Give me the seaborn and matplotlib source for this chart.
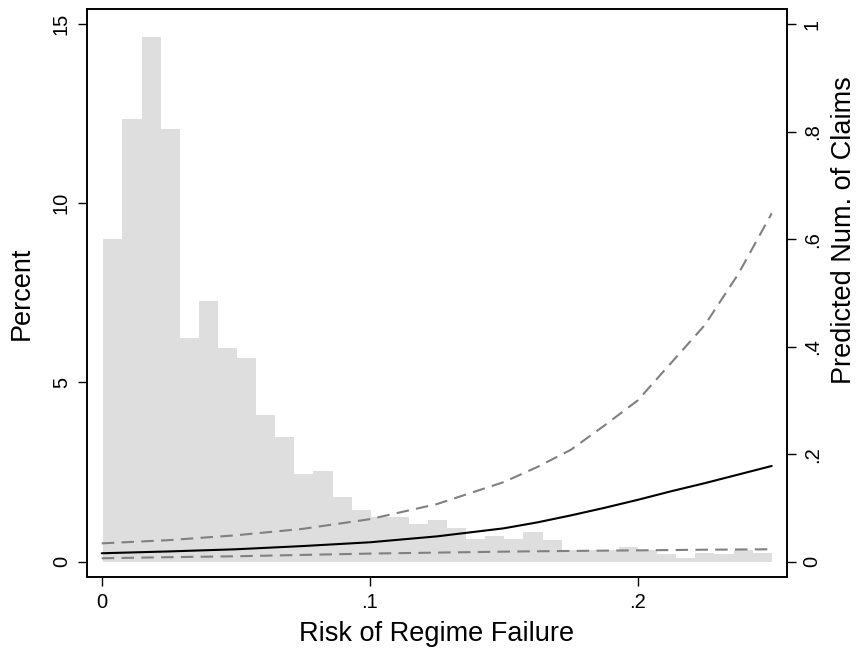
import numpy as np
import pandas as pd
import matplotlib
matplotlib.use("Agg")
import matplotlib.pyplot as plt
import seaborn as sns

sns.set_style("ticks")
plt.rcParams['font.family'] = ['Liberation Sans', 'DejaVu Sans']
plt.rcParams['text.color'] = 'black'
plt.rcParams['axes.labelcolor'] = 'black'
plt.rcParams['xtick.color'] = 'black'
plt.rcParams['ytick.color'] = 'black'

# histogram of risk of regime failure (percent per bin)
bin_lo, bin_hi, n_bins = 0.0006, 0.2500, 35
pct = [9.0, 12.35, 14.63, 12.07, 6.24, 7.27, 5.96, 5.68, 4.09, 3.47,
       2.44, 2.52, 1.80, 1.44, 1.24, 1.24, 1.05, 1.16, 0.95, 0.63,
       0.72, 0.63, 0.84, 0.61, 0.33, 0.33, 0.33, 0.42, 0.33, 0.21,
       0.11, 0.25, 0.21, 0.33, 0.23]

# predicted number of claims with bounds
risk = [0.0, 0.025, 0.05, 0.075, 0.1, 0.125, 0.15, 0.1625, 0.175, 0.1875,
        0.2, 0.2125, 0.225, 0.2375, 0.25]
pred = [0.0156, 0.019, 0.023, 0.029, 0.036, 0.047, 0.062, 0.073, 0.086, 0.100,
        0.115, 0.131, 0.146, 0.162, 0.178]
upper = [0.034, 0.040, 0.049, 0.061, 0.079, 0.107, 0.148, 0.176, 0.208, 0.253,
         0.300, 0.37, 0.44, 0.535, 0.648]
lower = [0.0063, 0.0083, 0.010, 0.0125, 0.0150, 0.0168, 0.0186, 0.0193, 0.0199, 0.0205,
         0.021, 0.0216, 0.0222, 0.0226, 0.023]

edges = np.linspace(bin_lo, bin_hi, n_bins + 1)
centers = (edges[:-1] + edges[1:]) / 2
hist_df = pd.DataFrame({'risk': centers, 'pct': pct})
line_df = pd.DataFrame({'risk': risk, 'pred': pred, 'upper': upper, 'lower': lower})

fig = plt.figure(figsize=(8.57, 6.52), dpi=100)
ax = fig.add_axes([0.1012, 0.1155, 0.918 - 0.1012, 0.986 - 0.1155])

sns.histplot(data=hist_df, x='risk', weights='pct', bins=n_bins, binrange=(bin_lo, bin_hi),
             ax=ax, color='#dedede', alpha=1, linewidth=0, edgecolor='none')
ax.set_xlim(-0.0056, 0.2556)
ax.set_ylim(-0.42, 15.42)
ax.set_xticks([0, 0.1, 0.2])
ax.set_xticklabels(['0', '.1', '.2'])
ax.set_yticks([0, 5, 10, 15])
ax.set_yticklabels(['0', '5', '10', '15'], rotation=90, va='center')
ax.set_xlabel('Risk of Regime Failure', fontsize=19.5, labelpad=7)
ax.set_ylabel('Percent', fontsize=19.5, labelpad=12)

ax2 = ax.twinx()
sns.lineplot(data=line_df, x='risk', y='upper', ax=ax2, color='#808080',
             linewidth=1.5, linestyle=(0, (6, 3.5)))
sns.lineplot(data=line_df, x='risk', y='lower', ax=ax2, color='#808080',
             linewidth=1.5, linestyle=(0, (6, 3.5)))
sns.lineplot(data=line_df, x='risk', y='pred', ax=ax2, color='black', linewidth=1.5)
ax2.set_ylim(-0.028, 1.028)
ax2.set_yticks([0, 0.2, 0.4, 0.6, 0.8, 1])
ax2.set_yticklabels(['0', '.2', '.4', '.6', '.8', '1'], rotation=90, va='center')
ax2.set_ylabel('Predicted Num. of Claims', fontsize=19.5, labelpad=7)
ax2.yaxis.label.set_y(0.61)

for a in (ax, ax2):
    a.tick_params(axis='both', labelsize=14.5, length=6.5, width=1, color='black',
                  labelcolor='black', pad=5)
    for s in a.spines.values():
        s.set_linewidth(1.2)
        s.set_color('black')
        s.set_visible(True)

fig.savefig('out.png', dpi=100)
